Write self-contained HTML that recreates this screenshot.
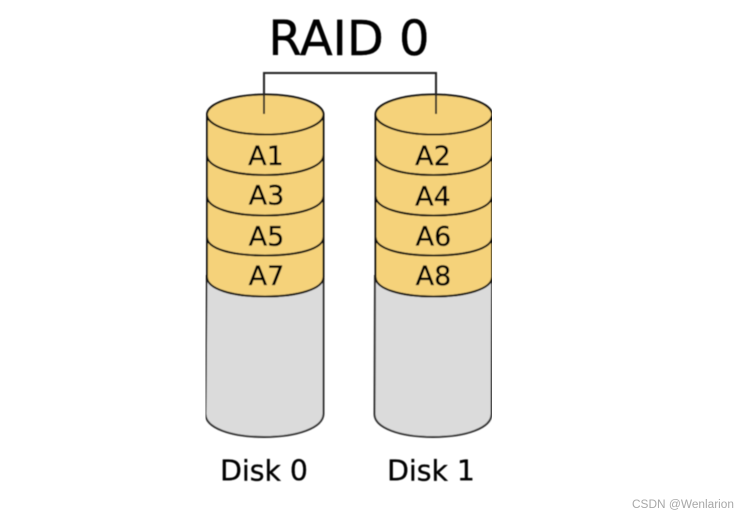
<!DOCTYPE html>
<html>
<head>
<meta charset="utf-8">
<style>
html,body{margin:0;padding:0;background:#fff;width:747px;height:516px;overflow:hidden}
svg{display:block}
text{font-family:"DejaVu Sans","Liberation Sans",sans-serif;fill:#000}
</style>
</head>
<body>
<svg width="747" height="516" viewBox="0 0 747 516" xmlns="http://www.w3.org/2000/svg">
<defs>
<filter id="b" x="0" y="0" width="100%" height="100%"><feGaussianBlur stdDeviation="0.45"/></filter>
<filter id="w" x="0" y="0" width="100%" height="100%"><feGaussianBlur stdDeviation="0.3"/></filter>
</defs>
<g filter="url(#b)">
<g stroke="#111" stroke-width="2" fill="none">
  <path d="M206.500 276 L205.500 414 C205.500 428 231 437 264 437 C297 437 323 428 323.500 414 L323.500 276 Z" fill="#dbdbdb" stroke="#333"/>
  <path d="M207 114.500 L207 277 C207 289 232 296.500 265 296.500 C298 296.500 323.500 289 323.500 277 L323.500 114.500 Z" fill="#f5d27a"/>
  <path d="M207 237 C207 249 232 255.500 265 255.500 C298 255.500 323.500 249 323.500 237"/>
  <path d="M207 196 C207 208 232 215.500 265 215.500 C298 215.500 323.500 208 323.500 196"/>
  <path d="M207 155 C207 167 232 175 265 175 C298 175 323.500 167 323.500 155"/>
  <ellipse cx="265.250" cy="114.500" rx="58.250" ry="20" fill="#f5d27a"/>
</g>
<g stroke="#111" stroke-width="2" fill="none">
  <path d="M375 276 L374.500 414 C374.500 428 400 437 433 437 C466 437 491.500 428 491.500 414 L492 276 Z" fill="#dbdbdb" stroke="#333"/>
  <path d="M375.500 114.500 L375.500 277 C375.500 289 401 296.500 433.500 296.500 C466 296.500 492 289 492 277 L492 114.500 Z" fill="#f5d27a"/>
  <path d="M375.500 237 C375.500 249 401 255.500 433.500 255.500 C466 255.500 492 249 492 237"/>
  <path d="M375.500 196 C375.500 208 401 215.500 433.500 215.500 C466 215.500 492 208 492 196"/>
  <path d="M375.500 155 C375.500 167 401 175 433.500 175 C466 175 492 167 492 155"/>
  <ellipse cx="433.750" cy="114.500" rx="58.250" ry="20" fill="#f5d27a"/>
</g>
<path d="M264 114 V73 H436 V114" fill="none" stroke="#222" stroke-width="2"/>
<text x="349" y="55" font-size="48" text-anchor="middle" stroke="#000" stroke-width="0.4">RAID 0</text>
<g font-size="27" text-anchor="middle" stroke="#000" stroke-width="0.35">
  <text x="266" y="165">A1</text>
  <text x="266.500" y="204.500">A3</text>
  <text x="266.500" y="245.500">A5</text>
  <text x="266.500" y="285">A7</text>
  <text x="433" y="165">A2</text>
  <text x="433" y="205.500">A4</text>
  <text x="433.500" y="245.500">A6</text>
  <text x="433.500" y="285">A8</text>
</g>
<g font-size="28.300" text-anchor="middle" stroke="#000" stroke-width="0.3">
  <text x="264" y="480.500">Disk 0</text>
  <text x="431" y="480.500">Disk 1</text>
</g>
</g>
<text x="632" y="508" font-size="11.500" filter="url(#w)" style="font-family:'Liberation Sans',sans-serif;fill:#a8a8a8" textLength="102" lengthAdjust="spacingAndGlyphs">CSDN @Wenlarion</text>
</svg>
</body>
</html>
